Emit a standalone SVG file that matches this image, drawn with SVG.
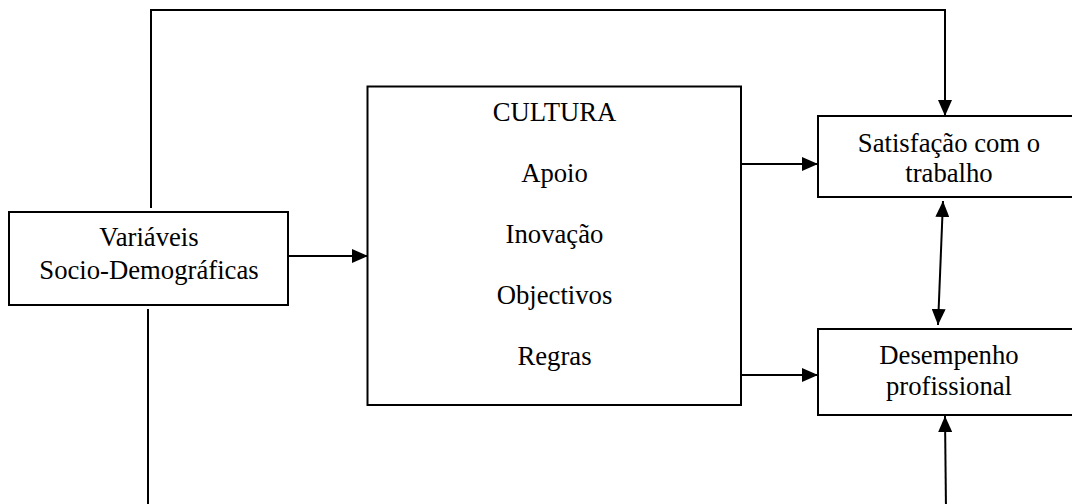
<svg xmlns="http://www.w3.org/2000/svg" width="1072" height="504" viewBox="0 0 1072 504">
<style>
.box{fill:#fff;stroke:#000;stroke-width:2}
.ln{fill:none;stroke:#000;stroke-width:2}
.t{font-family:"Liberation Serif","Times New Roman",serif;font-size:26.7px;fill:#000;text-anchor:middle}
</style>
<defs>
<marker id="ah" markerUnits="userSpaceOnUse" markerWidth="16" markerHeight="14" refX="16" refY="7" orient="auto-start-reverse" viewBox="0 0 16 14">
<path d="M0,0 L16,7 L0,14 Z" fill="#000"/>
</marker>
</defs>
<rect width="1072" height="504" fill="#fff"/>
<g id="connectors">
<path class="ln" d="M151,208 V10 H945 V116" marker-end="url(#ah)"/>
<path class="ln" d="M148,309 V510"/>
<path class="ln" d="M288,256 H368" marker-end="url(#ah)"/>
<path class="ln" d="M741,164 H818" marker-end="url(#ah)"/>
<path class="ln" d="M741,375 H818" marker-end="url(#ah)"/>
<path class="ln" d="M943,201 L938,325" marker-start="url(#ah)" marker-end="url(#ah)"/>
<path class="ln" d="M946,510 L945,416" marker-end="url(#ah)"/>
</g>
<g id="socio">
<rect class="box" x="9" y="212" width="279" height="93"/>
<text class="t" x="149" y="246">Variáveis</text>
<text class="t" x="149" y="279">Socio-Demográficas</text>
</g>
<g id="cultura">
<rect class="box" x="367.5" y="86.5" width="373.5" height="318.5"/>
<text class="t" x="554.5" y="120.5">CULTURA</text>
<text class="t" x="554.5" y="181.5">Apoio</text>
<text class="t" x="554.5" y="242.5">Inovação</text>
<text class="t" x="554.5" y="303.5">Objectivos</text>
<text class="t" x="554.5" y="364.5">Regras</text>
</g>
<g id="satisfacao">
<rect class="box" x="818" y="116" width="262" height="81"/>
<text class="t" x="949" y="152">Satisfação com o</text>
<text class="t" x="949" y="182">trabalho</text>
</g>
<g id="desempenho">
<rect class="box" x="818" y="329" width="262" height="86"/>
<text class="t" x="949" y="364">Desempenho</text>
<text class="t" x="949" y="395">profissional</text>
</g>
</svg>
